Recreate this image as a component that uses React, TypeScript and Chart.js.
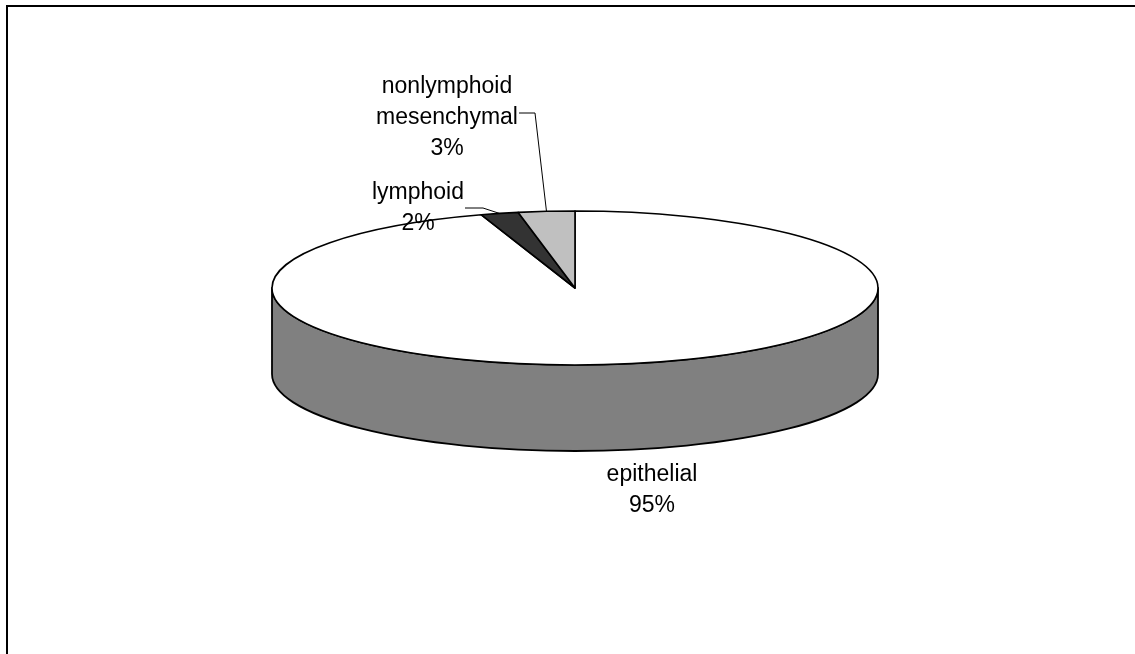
import React, { useEffect, useRef } from "react";
import { Chart, registerables } from "chart.js";

Chart.register(...registerables);

// ---- data ----
const categories = ["epithelial", "lymphoid", "nonlymphoid mesenchymal"];
const values = [95, 2, 3];
const nameLines = [["epithelial"], ["lymphoid"], ["nonlymphoid", "mesenchymal"]];

// ---- styles ----
const topColors = ["#FFFFFF", "#333333", "#C0C0C0"];
const sideColors = ["#808080", "#1A1A1A", "#606060"];
const TILT = 0.254; // vertical squash of the pie top
const DEPTH = 0.284; // wall height relative to radius
const FONT = "23px 'Liberation Sans', Arial, sans-serif";
const LINE_H = 31;
// label anchor (center x of text, first baseline) relative to the pie centre
const labelOffsets = [
  { dx: 77, dy: 193, leader: null },
  { dx: -157, dy: -89, leader: { sx: -110, sy: -80, elbow: 18 } },
  { dx: -128, dy: -195, leader: { sx: -56, sy: -175, elbow: 16 } },
];

const pie3d = {
  id: "pie3d",
  beforeDatasetsDraw(chart: any) {
    const ctx: CanvasRenderingContext2D = chart.ctx;
    const meta = chart.getDatasetMeta(0);
    const arcs = meta.data.map((a: any) =>
      a.getProps(["x", "y", "startAngle", "endAngle", "outerRadius"], true)
    );
    if (!arcs.length) return false;
    const cx = arcs[0].x;
    const cy = arcs[0].y;
    const rx = arcs[0].outerRadius;
    const ry = rx * TILT;
    const depth = rx * DEPTH;
    ctx.save();
    ctx.lineJoin = "round";
    // side walls (front-facing part only)
    arcs.forEach((a: any, i: number) => {
      const ranges = [
        [-2 * Math.PI, -Math.PI],
        [0, Math.PI],
        [2 * Math.PI, 3 * Math.PI],
      ];
      for (const [lo, hi] of ranges) {
        const s = Math.max(a.startAngle, lo);
        const e = Math.min(a.endAngle, hi);
        if (e <= s) continue;
        ctx.beginPath();
        ctx.ellipse(cx, cy, rx, ry, 0, s, e);
        ctx.lineTo(cx + rx * Math.cos(e), cy + ry * Math.sin(e) + depth);
        ctx.ellipse(cx, cy + depth, rx, ry, 0, e, s, true);
        ctx.closePath();
        ctx.fillStyle = sideColors[i];
        ctx.fill();
        ctx.strokeStyle = "#000";
        ctx.lineWidth = 1.8;
        ctx.stroke();
      }
    });
    // top faces
    arcs.forEach((a: any, i: number) => {
      ctx.beginPath();
      ctx.moveTo(cx, cy);
      ctx.ellipse(cx, cy, rx, ry, 0, a.startAngle, a.endAngle);
      ctx.closePath();
      ctx.fillStyle = topColors[i];
      ctx.fill();
      ctx.strokeStyle = "#000";
      ctx.lineWidth = 1.6;
      ctx.stroke();
    });
    // labels
    ctx.font = FONT;
    ctx.fillStyle = "#000";
    ctx.textAlign = "center";
    ctx.textBaseline = "alphabetic";
    arcs.forEach((a: any, i: number) => {
      const off = labelOffsets[i];
      const lines = [...nameLines[i], `${values[i]}%`];
      lines.forEach((t, j) => {
        ctx.fillText(t, cx + off.dx, cy + off.dy + j * LINE_H);
      });
      if (off.leader) {
        const mid = (a.startAngle + a.endAngle) / 2;
        const ex = cx + rx * Math.cos(mid);
        const ey = cy + ry * Math.sin(mid);
        const sx = cx + off.leader.sx;
        const sy = cy + off.leader.sy;
        ctx.beginPath();
        ctx.moveTo(sx, sy);
        ctx.lineTo(sx + off.leader.elbow, sy);
        ctx.lineTo(ex, ey);
        ctx.strokeStyle = "#000";
        ctx.lineWidth = 1;
        ctx.stroke();
      }
    });
    ctx.restore();
    return false;
  },
};

export default function App() {
  const ref = useRef<HTMLCanvasElement | null>(null);
  useEffect(() => {
    if (!ref.current) return;
    const chart = new Chart(ref.current, {
      type: "pie",
      data: {
        labels: categories,
        datasets: [
          {
            data: values,
            backgroundColor: topColors,
            borderWidth: 0,
            hoverOffset: 0,
            offset: 0,
          } as any,
        ],
      },
      options: {
        responsive: false,
        animation: false,
        events: [],
        layout: { padding: { left: 272, right: 257, top: 85, bottom: 163 } },
        plugins: { legend: { display: false }, tooltip: { enabled: false } },
      },
      plugins: [pie3d as any],
    });
    return () => chart.destroy();
  }, []);
  return (
    <div
      style={{
        position: "fixed",
        left: 0,
        top: 0,
        width: 1135,
        height: 654,
        overflow: "hidden",
        background: "#fff",
      }}
    >
      <canvas
        ref={ref}
        width={1135}
        height={854}
        style={{ position: "absolute", left: 0, top: -100, width: 1135, height: 854, display: "block" }}
      />
      <div
        style={{
          position: "absolute",
          left: 6,
          top: 5,
          width: 1129,
          height: 649,
          boxSizing: "border-box",
          borderTop: "2px solid #000",
          borderLeft: "2px solid #000",
        }}
      />
    </div>
  );
}
